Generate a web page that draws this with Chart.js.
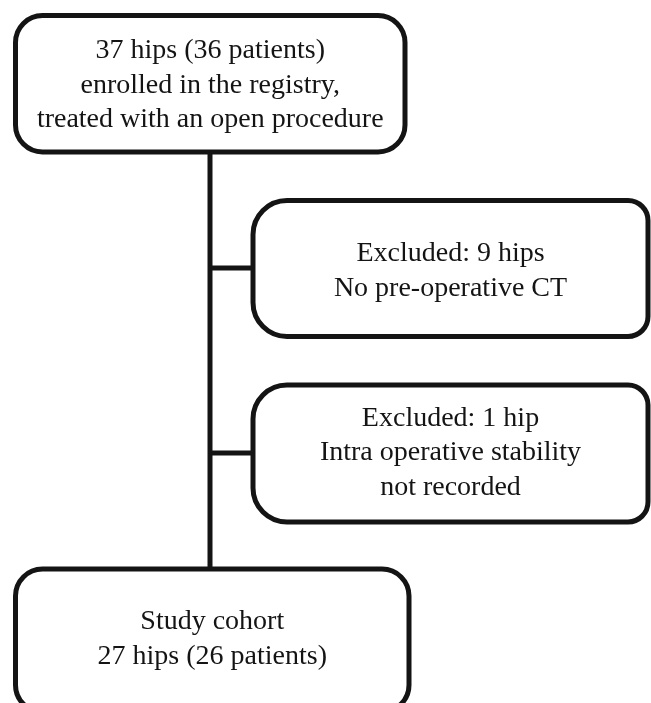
<!DOCTYPE html>
<html>
<head>
<meta charset="utf-8">
<script src="https://cdn.jsdelivr.net/npm/chart.js@4.4.0/dist/chart.umd.min.js"></script>
<style>
  html, body { margin: 0; padding: 0; background: #fff; }
  #flow { display: block; }
</style>
</head>
<body>
<canvas id="flow" width="651" height="703"></canvas>
<script>
// box texts, top to bottom
const enrolledLines = ['37 hips (36 patients)', 'enrolled in the registry,', 'treated with an open procedure'];
const excludedLines = [
  ['Excluded: 9 hips', 'No pre-operative CT'],
  ['Excluded: 1 hip', 'Intra operative stability', 'not recorded']
];
const cohortLines = ['Study cohort', '27 hips (26 patients)'];

// layout in axis units (x: 0..651, y: 0..703 top-down)
const boxes = [
  { x0: 15.5, x1: 405, y0: 15.5, y1: 152, r: [27, 27, 27, 27], lines: enrolledLines, cy: 85.5 },
  { x0: 253, x1: 648, y0: 200.5, y1: 336.5, r: [34, 20, 20, 34], lines: excludedLines[0], cy: 271 },
  { x0: 253, x1: 648, y0: 385, y1: 522, r: [34, 20, 20, 34], lines: excludedLines[1], cy: 453 },
  { x0: 15.5, x1: 409, y0: 569, y1: 712, r: [27, 27, 27, 27], lines: cohortLines, cy: 639 }
];
const trunk = [{ x: 210, y: 152 }, { x: 210, y: 569 }];
const branches = [
  [{ x: 210, y: 268 }, { x: 253, y: 268 }],
  [{ x: 210, y: 453 }, { x: 253, y: 453 }]
];

const ink = '#141414';
const lineGap = 34.5;

const boxPlugin = {
  id: 'boxes',
  afterDatasetsDraw(chart) {
    const ctx = chart.ctx;
    const sx = chart.scales.x, sy = chart.scales.y;
    ctx.save();
    boxes.forEach(b => {
      const left = sx.getPixelForValue(b.x0), right = sx.getPixelForValue(b.x1);
      const top = sy.getPixelForValue(b.y0), bottom = sy.getPixelForValue(b.y1);
      ctx.beginPath();
      ctx.roundRect(left, top, right - left, bottom - top, b.r);
      ctx.fillStyle = '#fff';
      ctx.fill();
      ctx.lineWidth = 5;
      ctx.strokeStyle = ink;
      ctx.stroke();

      ctx.fillStyle = ink;
      ctx.font = '28px "Liberation Serif", "DejaVu Serif", serif';
      ctx.textAlign = 'center';
      ctx.textBaseline = 'middle';
      const cx = (left + right) / 2;
      const n = b.lines.length;
      b.lines.forEach((t, i) => {
        const y = sy.getPixelForValue(b.cy + (i - (n - 1) / 2) * lineGap);
        ctx.fillText(t, cx, y);
      });
    });
    ctx.restore();
  }
};

const lineSet = pts => ({
  data: pts,
  showLine: true,
  borderColor: ink,
  borderWidth: 5,
  pointRadius: 0,
  borderCapStyle: 'butt'
});

new Chart(document.getElementById('flow'), {
  type: 'scatter',
  data: {
    datasets: [lineSet(trunk), lineSet(branches[0]), lineSet(branches[1])]
  },
  options: {
    responsive: false,
    animation: false,
    layout: { padding: 0 },
    plugins: { legend: { display: false }, tooltip: { enabled: false } },
    scales: {
      x: { type: 'linear', min: 0, max: 651, display: false },
      y: { type: 'linear', min: 0, max: 703, reverse: true, display: false }
    }
  },
  plugins: [boxPlugin]
});
</script>
</body>
</html>
